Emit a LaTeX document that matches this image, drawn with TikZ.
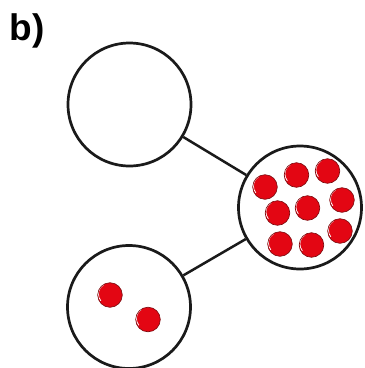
\documentclass[tikz,border=0pt]{standalone}
\usepackage{fontspec}
\setsansfont{Liberation Sans}
\usepackage{tikz}
\usetikzlibrary{positioning}
\definecolor{DotRed}{HTML}{E30613}
\definecolor{DotEdge}{HTML}{7A0A0E}
\definecolor{LineDark}{HTML}{1A1A1A}

\tikzset{
  group/.style={circle, draw=LineDark, line width=2.7pt, fill=white,
                minimum size=123pt, inner sep=0pt},
  dot/.style={circle, draw=DotEdge, line width=0.6pt, fill=DotRed,
              minimum size=24.6pt, inner sep=0pt,
              path picture={\draw[white, line width=0.8pt]
                ([shift={(-1pt,1pt)}]path picture bounding box.center)
                ++(120:10.6pt) arc[start angle=120, end angle=220, radius=10.6pt];}},
  link/.style={draw=LineDark, line width=2.5pt}
}

\begin{document}
\begin{tikzpicture}[x=1pt, y=-1pt]
  \useasboundingbox (0,0) rectangle (365,368);

  % Label
  \node[anchor=base west, inner sep=0pt, font=\sffamily\bfseries\fontsize{37}{40}\selectfont]
        (lbl) at (9.5,40) {b)};

  % Group circles
  \node[group] (g1) at (129.5,104.5) {};
  \node[group] (g2) at (300,207.5) {};
  \node[group] (g3) at (129,307) {};

  % Links
  \draw[link] (g1) -- (g2);
  \draw[link] (g3) -- (g2);

  % Dots in the full group
  \node[dot] (d1) at (265,187) {};
  \node[dot] (d2) at (296.5,175) {};
  \node[dot] (d3) at (327.5,171) {};
  \node[dot] (d4) at (277.5,213) {};
  \node[dot] (d5) at (307.5,208) {};
  \node[dot] (d6) at (342,200) {};
  \node[dot] (d7) at (280,244) {};
  \node[dot] (d8) at (311.5,245) {};
  \node[dot] (d9) at (340,231) {};

  % Dots in the lower group
  \node[dot] (d10) at (110,295) {};
  \node[dot] (d11) at (148,319.5) {};
\end{tikzpicture}
\end{document}
